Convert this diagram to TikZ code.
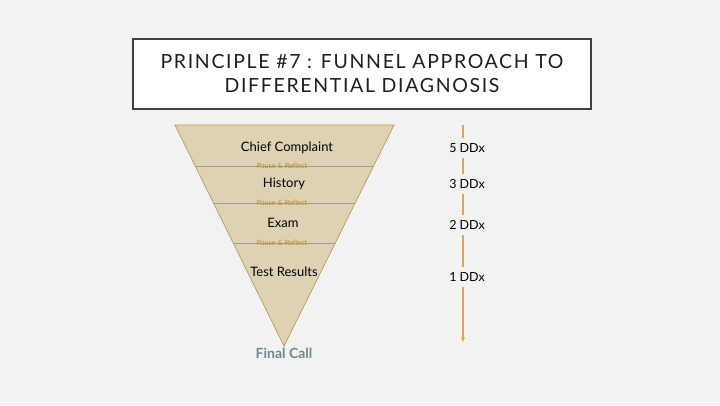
\documentclass[tikz,border=0pt]{standalone}
\usepackage{fontspec}
\setmainfont{Lato}
\usepackage{tikz}
\usetikzlibrary{calc,arrows.meta,positioning}
\definecolor{slideBg}{RGB}{242,242,242}
\definecolor{boxEdge}{RGB}{64,64,64}
\definecolor{titleText}{RGB}{30,30,30}
\definecolor{funnelFill}{RGB}{221,211,180}
\definecolor{funnelEdge}{RGB}{196,150,80}
\definecolor{pauseOrange}{RGB}{200,130,30}
\definecolor{divLine}{RGB}{143,163,170}
\definecolor{arrowOrange}{RGB}{240,163,50}
\definecolor{finalGray}{RGB}{114,136,143}

\tikzset{
  stage/.style={font=\fontsize{13}{15}\selectfont, text=black, inner sep=0pt},
  pause/.style={font=\fontsize{7.3}{8}\selectfont, text=pauseOrange, inner sep=0pt},
  ddx/.style={font=\fontsize{12.5}{14}\selectfont, text=black, inner sep=5pt},
}

\begin{document}
\begin{tikzpicture}[x=1pt, y=-1pt]
\fill[slideBg] (0,0) rectangle (720,405);
\useasboundingbox (0,0) rectangle (720,405);

% title box
\node[draw=boxEdge, line width=1.6pt, fill=white, minimum width=458pt, minimum height=70pt,
      align=center, text=titleText, font=\fontsize{19.5}{24}\selectfont\addfontfeatures{LetterSpace=8.5}]
  (title) at (362,74) {PRINCIPLE \#7 : FUNNEL APPROACH TO\\DIFFERENTIAL DIAGNOSIS};

% funnel
\coordinate (tl) at (175,125);
\coordinate (tr) at (394,125);
\coordinate (apex) at (284,346);
\fill[funnelFill] (tl) -- (tr) -- (apex) -- cycle;
\foreach \y in {166,203,243}
{
    \draw[divLine, line width=0.6pt] ($(tl)!{(\y-125)/221}!(apex)$) -- ($(tr)!{(\y-125)/221}!(apex)$);
    \node[pause] at (282,\y) {Pause \& Reflect};
}
\draw[funnelEdge, line width=0.7pt] (tl) -- (tr) -- (apex) -- cycle;

\node[stage] (cc) at (287,148) {Chief Complaint};
\node[stage] (hist) at (284,184) {History};
\node[stage] (exam) at (283,223) {Exam};
\node[stage] (test) at (284,272) {Test Results};
\node[font=\bfseries\fontsize{14}{16}\selectfont, text=finalGray, inner sep=0pt] (final) at (284,353) {Final Call};

% DDx arrow
\coordinate (atop) at (463,125);
\coordinate (abot) at (463,342);
\node[ddx] (d5) at (467,148) {5 DDx};
\node[ddx] (d3) at (467,184) {3 DDx};
\node[ddx] (d2) at (467,225) {2 DDx};
\node[ddx] (d1) at (467,277) {1 DDx};
\begin{scope}[arrowOrange, line width=1.4pt]
\draw (atop) -- (atop |- d5.north);
\draw (atop |- d5.south) -- (atop |- d3.north);
\draw (atop |- d3.south) -- (atop |- d2.north);
\draw (atop |- d2.south) -- (atop |- d1.north);
\draw[-{Stealth[length=5pt,width=4pt]}] (atop |- d1.south) -- (abot);
\end{scope}
\end{tikzpicture}
\end{document}
